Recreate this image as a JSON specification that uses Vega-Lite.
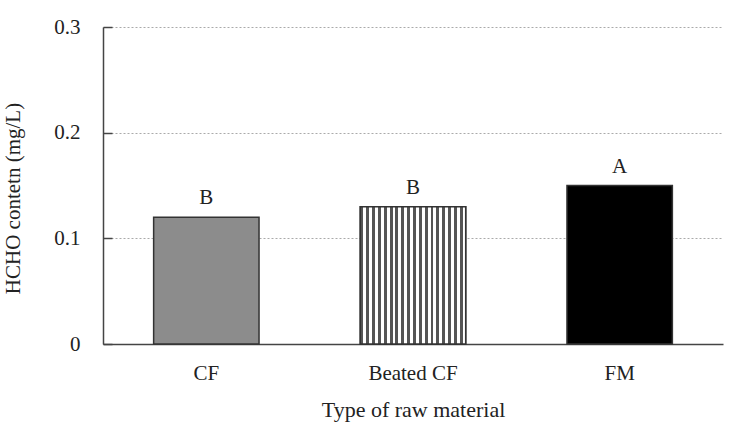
{
  "$schema": "https://vega.github.io/schema/vega-lite/v6.json",
  "autosize": "none",
  "width": 620,
  "height": 317,
  "padding": {"left": 103, "top": 27, "right": 7, "bottom": 81},
  "background": "white",
  "config": {
    "font": "Liberation Serif",
    "view": {"stroke": null}
  },
  "data": {
    "values": [
      {"material": "CF", "value": 0.12, "letter": "B"},
      {"material": "Beated CF", "value": 0.13, "letter": "B"},
      {"material": "FM", "value": 0.15, "letter": "A"}
    ]
  },
  "encoding": {
    "x": {
      "field": "material",
      "type": "nominal",
      "sort": ["CF", "Beated CF", "FM"],
      "scale": {"paddingInner": 0.49, "paddingOuter": 0.245},
      "axis": {
        "title": "Type of raw material",
        "titleFont": "Liberation Serif",
        "titleFontSize": 22,
        "titleFontWeight": "normal",
        "titleColor": "#222",
        "titlePadding": 16,
        "labelAngle": 0,
        "labelFont": "Liberation Serif",
        "labelFontSize": 21,
        "labelColor": "#222",
        "labelPadding": 18,
        "ticks": false,
        "domainColor": "#444",
        "domainWidth": 1.5
      }
    },
    "y": {
      "field": "value",
      "type": "quantitative",
      "scale": {"domain": [0, 0.3]},
      "axis": {
        "title": "HCHO contetn (mg/L)",
        "titleFont": "Liberation Serif",
        "titleFontSize": 21,
        "titleFontWeight": "normal",
        "titleColor": "#222",
        "titleX": -80,
        "titleY": 171,
        "values": [0, 0.1, 0.2, 0.3],
        "format": "~g",
        "labelFont": "Liberation Serif",
        "labelFontSize": 21,
        "labelColor": "#222",
        "labelPadding": 32,
        "tickSize": -9,
        "tickColor": "#444",
        "tickWidth": 1.5,
        "domainColor": "#444",
        "domainWidth": 1.5,
        "grid": true,
        "gridColor": "#aaa",
        "gridDash": [2, 2],
        "gridWidth": 1
      }
    }
  },
  "layer": [
    {
      "mark": {"type": "bar", "stroke": "#333", "strokeWidth": 1.5},
      "encoding": {
        "fill": {
          "field": "material",
          "type": "nominal",
          "scale": {"domain": ["CF", "Beated CF", "FM"], "range": ["#8c8c8c", "#ffffff", "#000000"]},
          "legend": null
        }
      }
    },
    {
      "transform": [{"filter": "datum.material === 'Beated CF'"}],
      "mark": {
        "type": "bar",
        "stroke": "#333",
        "strokeWidth": 1.5,
        "fill": {
          "gradient": "linear",
          "x1": 0, "y1": 0, "x2": 1, "y2": 0,
          "stops": [
            {"offset": 0.0, "color": "#555"}, {"offset": 0.0278, "color": "#555"}, {"offset": 0.0278, "color": "#fff"}, {"offset": 0.0556, "color": "#fff"},
            {"offset": 0.0556, "color": "#555"}, {"offset": 0.0833, "color": "#555"}, {"offset": 0.0833, "color": "#fff"}, {"offset": 0.1111, "color": "#fff"},
            {"offset": 0.1111, "color": "#555"}, {"offset": 0.1389, "color": "#555"}, {"offset": 0.1389, "color": "#fff"}, {"offset": 0.1667, "color": "#fff"},
            {"offset": 0.1667, "color": "#555"}, {"offset": 0.1944, "color": "#555"}, {"offset": 0.1944, "color": "#fff"}, {"offset": 0.2222, "color": "#fff"},
            {"offset": 0.2222, "color": "#555"}, {"offset": 0.25, "color": "#555"}, {"offset": 0.25, "color": "#fff"}, {"offset": 0.2778, "color": "#fff"},
            {"offset": 0.2778, "color": "#555"}, {"offset": 0.3056, "color": "#555"}, {"offset": 0.3056, "color": "#fff"}, {"offset": 0.3333, "color": "#fff"},
            {"offset": 0.3333, "color": "#555"}, {"offset": 0.3611, "color": "#555"}, {"offset": 0.3611, "color": "#fff"}, {"offset": 0.3889, "color": "#fff"},
            {"offset": 0.3889, "color": "#555"}, {"offset": 0.4167, "color": "#555"}, {"offset": 0.4167, "color": "#fff"}, {"offset": 0.4444, "color": "#fff"},
            {"offset": 0.4444, "color": "#555"}, {"offset": 0.4722, "color": "#555"}, {"offset": 0.4722, "color": "#fff"}, {"offset": 0.5, "color": "#fff"},
            {"offset": 0.5, "color": "#555"}, {"offset": 0.5278, "color": "#555"}, {"offset": 0.5278, "color": "#fff"}, {"offset": 0.5556, "color": "#fff"},
            {"offset": 0.5556, "color": "#555"}, {"offset": 0.5833, "color": "#555"}, {"offset": 0.5833, "color": "#fff"}, {"offset": 0.6111, "color": "#fff"},
            {"offset": 0.6111, "color": "#555"}, {"offset": 0.6389, "color": "#555"}, {"offset": 0.6389, "color": "#fff"}, {"offset": 0.6667, "color": "#fff"},
            {"offset": 0.6667, "color": "#555"}, {"offset": 0.6944, "color": "#555"}, {"offset": 0.6944, "color": "#fff"}, {"offset": 0.7222, "color": "#fff"},
            {"offset": 0.7222, "color": "#555"}, {"offset": 0.75, "color": "#555"}, {"offset": 0.75, "color": "#fff"}, {"offset": 0.7778, "color": "#fff"},
            {"offset": 0.7778, "color": "#555"}, {"offset": 0.8056, "color": "#555"}, {"offset": 0.8056, "color": "#fff"}, {"offset": 0.8333, "color": "#fff"},
            {"offset": 0.8333, "color": "#555"}, {"offset": 0.8611, "color": "#555"}, {"offset": 0.8611, "color": "#fff"}, {"offset": 0.8889, "color": "#fff"},
            {"offset": 0.8889, "color": "#555"}, {"offset": 0.9167, "color": "#555"}, {"offset": 0.9167, "color": "#fff"}, {"offset": 0.9444, "color": "#fff"},
            {"offset": 0.9444, "color": "#555"}, {"offset": 0.9722, "color": "#555"}, {"offset": 0.9722, "color": "#fff"}, {"offset": 1.0, "color": "#fff"}
          ]
        }
      }
    },
    {
      "mark": {"type": "text", "baseline": "alphabetic", "dy": -13, "font": "Liberation Serif", "fontSize": 21, "color": "#222"},
      "encoding": {"text": {"field": "letter"}}
    }
  ]
}
